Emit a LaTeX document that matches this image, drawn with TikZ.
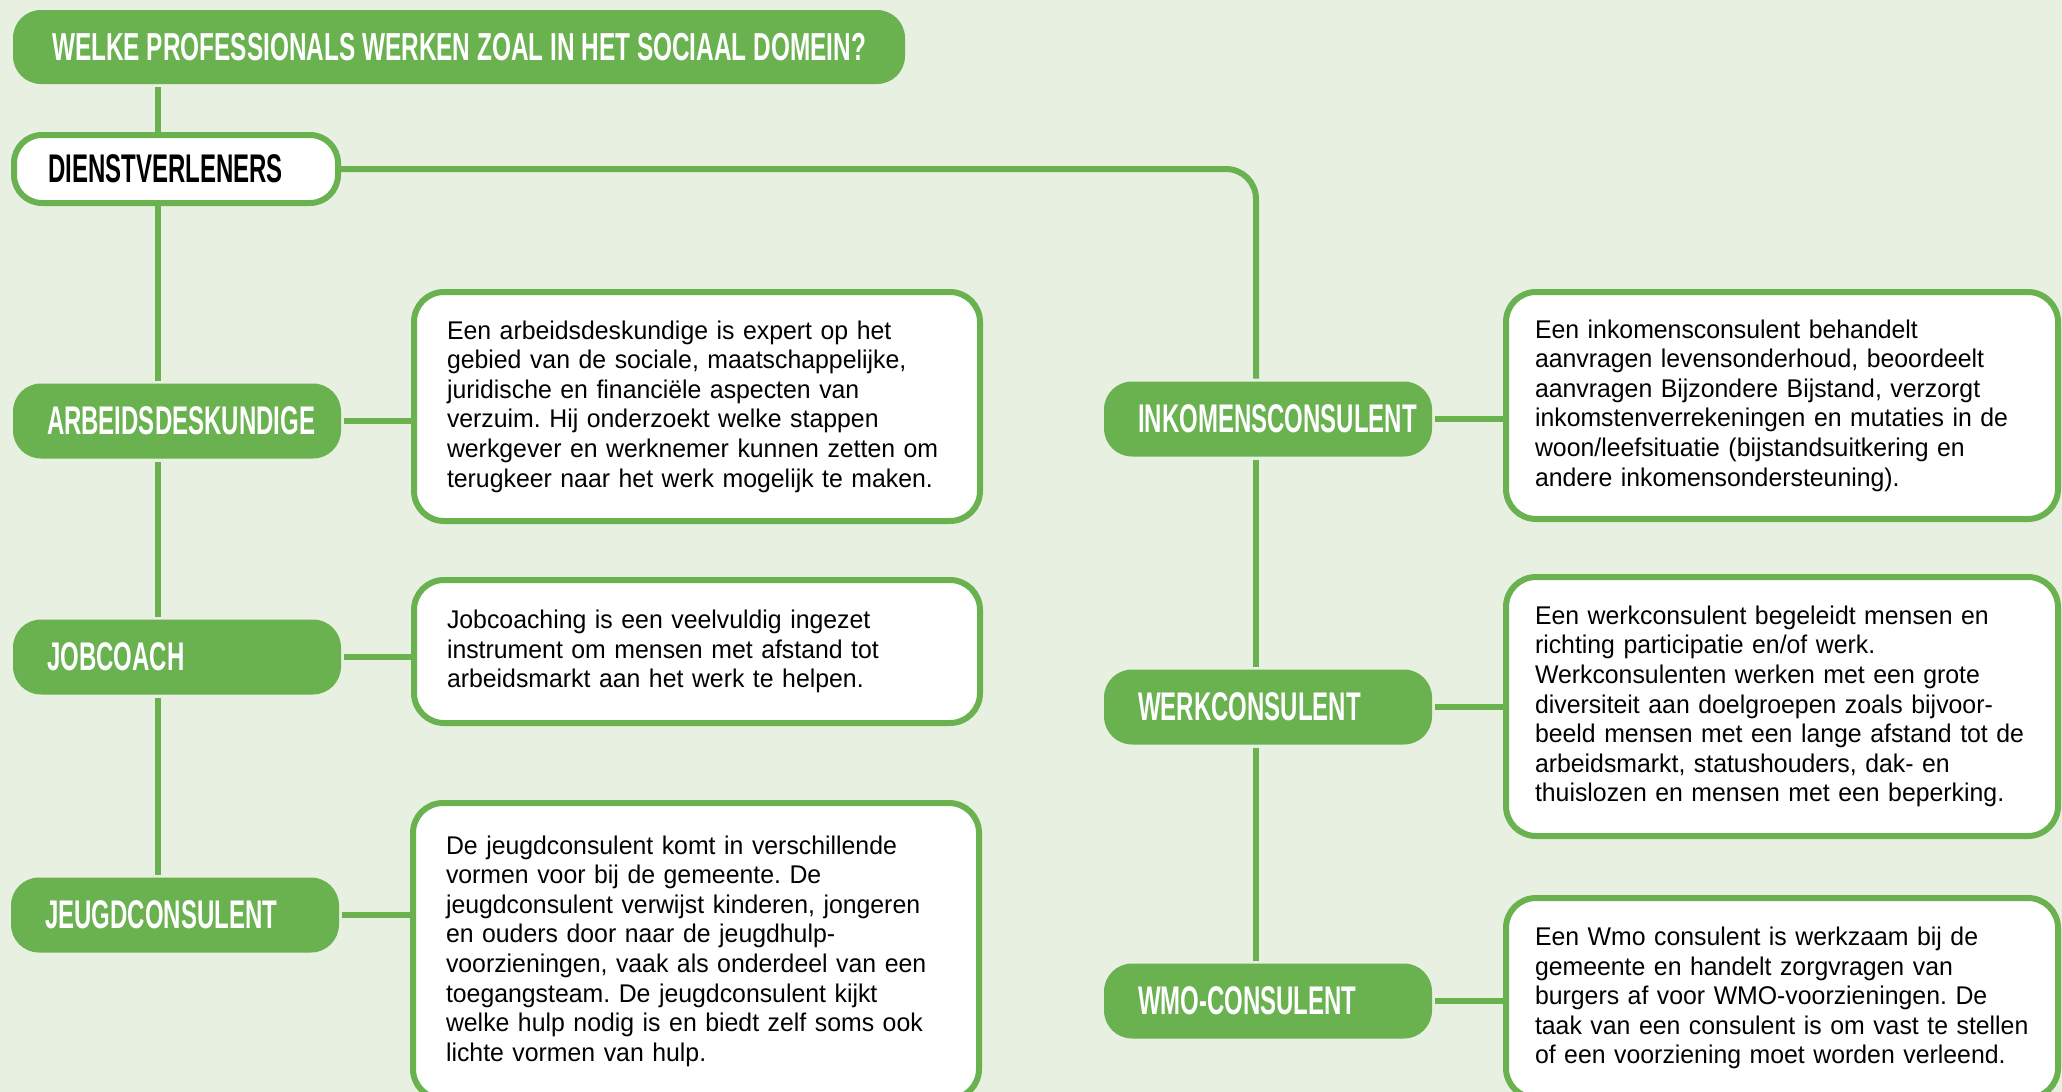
\documentclass[tikz,border=0pt]{standalone}
\usepackage{fontspec}
\setmainfont[FakeStretch=0.97]{Liberation Sans}
\newfontfamily\headfont[FakeStretch=0.6]{Liberation Sans}
\newfontfamily\titelfont[FakeStretch=0.625]{Liberation Sans}
\newcommand\kopfont{\headfont\bfseries\fontsize{20}{24}\selectfont}
\definecolor{domeingreen}{RGB}{106,177,80}
\definecolor{domeinbg}{RGB}{232,240,226}

\begin{document}
\begin{tikzpicture}[x=0.5pt, y=-0.5pt, line width=3pt,
    every node/.style={font=\fontsize{12.8}{14.8}\selectfont\frenchspacing},
    titel/.style={fill=domeingreen, rounded corners=14pt, text=white,
        font=\titelfont\bfseries\fontsize{19.5}{23}\selectfont,
        minimum width=446pt, minimum height=37pt},
    rol/.style={fill=domeingreen, rounded corners=14pt, text=white, font=\kopfont,
        align=left, text width=130pt, inner xsep=17pt, minimum height=37.5pt},
    groep/.style={draw=domeingreen, fill=white, rounded corners=14pt, font=\kopfont,
        align=left, text width=128pt, inner xsep=17pt, minimum height=34pt},
    uitleg/.style={draw=domeingreen, fill=white, rounded corners=15pt,
        align=left, text width=#1}]
    \useasboundingbox (0,0) rectangle (2062,1092);
    \clip (0,0) rectangle (2062,1092);
    \fill[domeinbg] (0,0) rectangle (2062,1092);

    % kop en trefwoorden
    \node[titel] (titel) at (459,47) {WELKE PROFESSIONALS WERKEN ZOAL IN HET SOCIAAL DOMEIN?};
    \node[groep] (dienst) at (176,169) {DIENSTVERLENERS};
    \node[rol] (arbeids) at (177,421) {ARBEIDSDESKUNDIGE};
    \node[rol] (jobcoach) at (177,657) {JOBCOACH};
    \node[rol] (jeugd) at (175,915) {JEUGDCONSULENT};
    \node[rol] (inkomen) at (1268,419) {INKOMENSCONSULENT};
    \node[rol] (werk) at (1268,707) {WERKCONSULENT};
    \node[rol] (wmo) at (1268,1001) {WMO-CONSULENT};

    % uitleg links
    \node[uitleg=250pt, inner xsep=16.5pt, minimum height=114.5pt] (uArbeids) at (697,406.5)
        {Een arbeidsdeskundige is expert op het\\
         gebied van de sociale, maatschappelijke,\\
         juridische en financiële aspecten van\\
         verzuim. Hij onderzoekt welke stappen\\
         werkgever en werknemer kunnen zetten om\\
         terugkeer naar het werk mogelijk te maken.};
    \node[uitleg=250pt, inner xsep=16.5pt, minimum height=71.5pt] (uJobcoach) at (697,651.5)
        {Jobcoaching is een veelvuldig ingezet\\
         instrument om mensen met afstand tot\\
         arbeidsmarkt aan het werk te helpen.};
    \node[uitleg=250pt, inner xsep=16.5pt, minimum height=148pt] (uJeugd) at (696,951)
        {De jeugdconsulent komt in verschillende\\
         vormen voor bij de gemeente. De\\
         jeugdconsulent verwijst kinderen, jongeren\\
         en ouders door naar de jeugdhulp-\\
         voorzieningen, vaak als onderdeel van een\\
         toegangsteam. De jeugdconsulent kijkt\\
         welke hulp nodig is en biedt zelf soms ook\\
         lichte vormen van hulp.};

    % uitleg rechts
    \node[uitleg=247pt, inner xsep=14.5pt, minimum height=113.5pt] (uInkomen) at (1782,405.5)
        {Een inkomensconsulent behandelt\\
         aanvragen levensonderhoud, beoordeelt\\
         aanvragen Bijzondere Bijstand, verzorgt\\
         inkomstenverrekeningen en mutaties in de\\
         woon/leefsituatie (bijstandsuitkering en\\
         andere inkomensondersteuning).};
    \node[uitleg=247pt, inner xsep=14.5pt, minimum height=129.5pt] (uWerk) at (1782,706.5)
        {Een werkconsulent begeleidt mensen en\\
         richting participatie en/of werk.\\
         Werkconsulenten werken met een grote\\
         diversiteit aan doelgroepen zoals bijvoor-\\
         beeld mensen met een lange afstand tot de\\
         arbeidsmarkt, statushouders, dak- en\\
         thuislozen en mensen met een beperking.};
    \node[uitleg=247pt, inner xsep=14.5pt, minimum height=100pt] (uWmo) at (1782,998)
        {Een Wmo consulent is werkzaam bij de\\
         gemeente en handelt zorgvragen van\\
         burgers af voor WMO-voorzieningen. De\\
         taak van een consulent is om vast te stellen\\
         of een voorziening moet worden verleend.};

    % lijnen
    \coordinate (links) at (158,0);
    \coordinate (rechts) at (1256,0);
    \draw[domeingreen] (titel.south -| links) -- (dienst.north -| links);
    \draw[domeingreen] (dienst.south -| links) -- (arbeids.north -| links);
    \draw[domeingreen] (arbeids.south -| links) -- (jobcoach.north -| links);
    \draw[domeingreen] (jobcoach.south -| links) -- (jeugd.north -| links);
    \draw[domeingreen, rounded corners=15pt] (dienst.east) -| (inkomen.north -| rechts);
    \draw[domeingreen] (inkomen.south -| rechts) -- (werk.north -| rechts);
    \draw[domeingreen] (werk.south -| rechts) -- (wmo.north -| rechts);
    \draw[domeingreen] (arbeids.east) -- (arbeids.east -| uArbeids.west);
    \draw[domeingreen] (jobcoach.east) -- (jobcoach.east -| uJobcoach.west);
    \draw[domeingreen] (jeugd.east) -- (jeugd.east -| uJeugd.west);
    \draw[domeingreen] (inkomen.east) -- (inkomen.east -| uInkomen.west);
    \draw[domeingreen] (werk.east) -- (werk.east -| uWerk.west);
    \draw[domeingreen] (wmo.east) -- (wmo.east -| uWmo.west);
\end{tikzpicture}
\end{document}
